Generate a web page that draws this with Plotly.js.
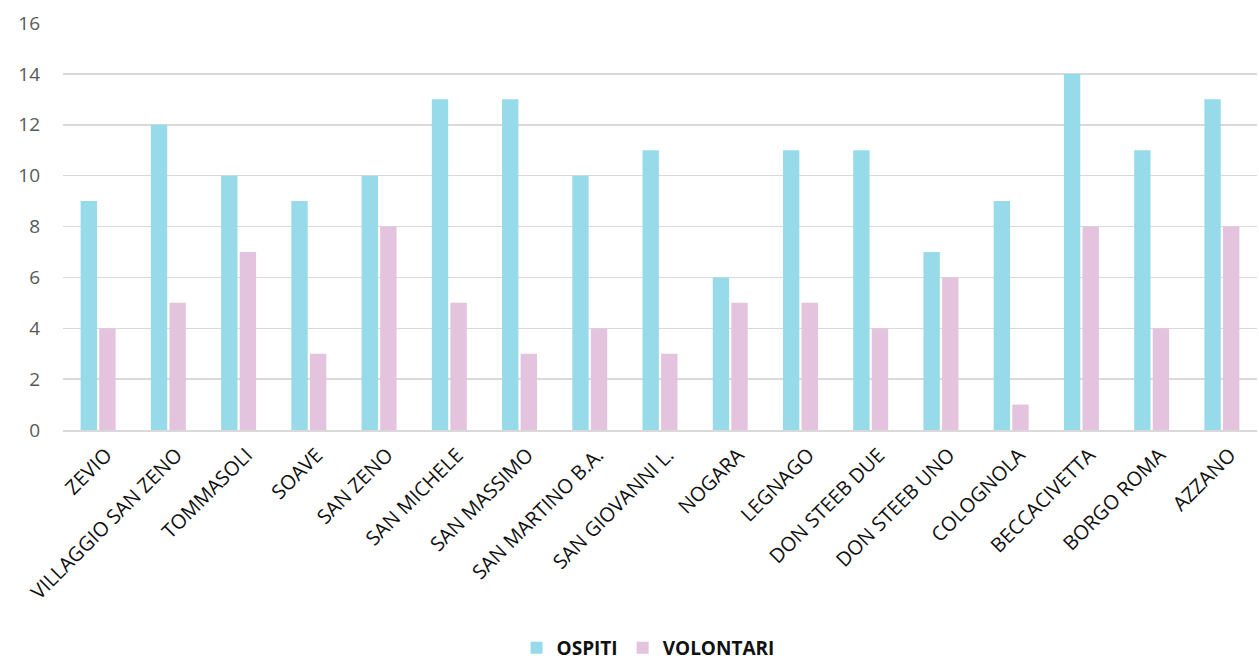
<!DOCTYPE html>
<html><head><meta charset="utf-8">
<script src="https://cdn.plot.ly/plotly-3.0.1.min.js"></script>
<style>html,body{margin:0;padding:0;background:#fff}#chart{width:1259px;height:668px}</style>
</head><body><div id="chart"></div>
<script>
const categories = ["ZEVIO","VILLAGGIO SAN ZENO","TOMMASOLI","SOAVE","SAN ZENO","SAN MICHELE","SAN MASSIMO","SAN MARTINO B.A.","SAN GIOVANNI L.","NOGARA","LEGNAGO","DON STEEB DUE","DON STEEB UNO","COLOGNOLA","BECCACIVETTA","BORGO ROMA","AZZANO"];
const ospiti = [9,12,10,9,10,13,13,10,11,6,11,11,7,9,14,11,13];
const volontari = [4,5,7,3,8,5,3,4,3,5,5,4,6,1,8,4,8];
const yTicks = [0,2,4,6,8,10,12,14,16];

const font = "'Open Sans', 'Noto Sans', sans-serif";
const traces = [
  {type:'bar', name:'OSPITI', x:categories, y:ospiti, marker:{color:'#97DBEA'}},
  {type:'bar', name:'VOLONTARI', x:categories, y:volontari, marker:{color:'#E3C3DE'}}
];
const layout = {
  width:1259, height:668,
  margin:{l:63, r:2, t:23, b:238, autoexpand:false},
  paper_bgcolor:'#fff', plot_bgcolor:'#fff',
  barmode:'group', bargap:0.47, bargroupgap:0.12,
  font:{family:font, size:18, color:'#595959'},
  xaxis:{type:'category', automargin:false, tickangle:-45, ticklabelshift:8, ticklabelstandoff:4, tickfont:{family:font, size:20, color:'#111'}, showgrid:false, showline:true, linecolor:'#d9d9d9', linewidth:1.5, ticks:''},
  yaxis:{automargin:false, range:[0,16], tickvals:yTicks, ticktext:yTicks.map(String), showgrid:true, gridcolor:'#d9d9d9', gridwidth:1.5, zeroline:false, ticks:'', ticklabelstandoff:22, tickfont:{family:font, size:19, color:'#595959'}},
  showlegend:true,
  legend:{orientation:'h', x:0.49, xanchor:'center', yref:'container', y:0.03, yanchor:'middle', font:{family:font, size:19, color:'#111', weight:'bold'}, traceorder:'normal', itemwidth:30}
};
Plotly.newPlot('chart', traces, layout, {displayModeBar:false, staticPlot:true});
</script></body></html>
